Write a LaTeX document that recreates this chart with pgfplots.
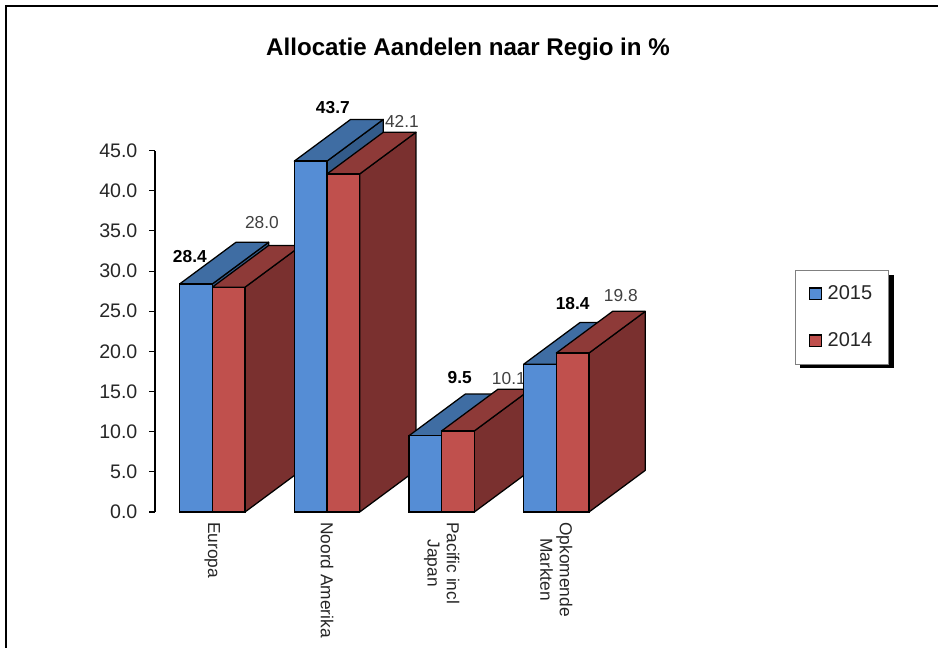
\documentclass[border=0pt]{standalone}
\usepackage{pgfplots}
\pgfplotsset{compat=1.18}
\usepackage{fontspec}
\setmainfont{Liberation Sans}

\definecolor{blueFront}{HTML}{558DD5}
\definecolor{blueTop}{HTML}{3F6DA3}
\definecolor{blueSide}{HTML}{335B8A}
\definecolor{redFront}{HTML}{C0504D}
\definecolor{redTop}{HTML}{8E3A38}
\definecolor{redSide}{HTML}{7A302F}
\definecolor{labelGray}{HTML}{404040}
\definecolor{axisText}{HTML}{262626}

% Depth of the extruded bars, in axis units
\def\depthx{0.491}
\def\depthy{5.19}
\def\barw{0.285}

% Top and side face of one bar: left edge, value, top colour, side colour
\newcommand{\extrude}[4]{%
  \pgfmathsetmacro\xl{#1}%
  \pgfmathsetmacro\xr{#1+\barw}%
  \pgfmathsetmacro\xlb{#1+\depthx}%
  \pgfmathsetmacro\xrb{#1+\barw+\depthx}%
  \pgfmathsetmacro\yb{#2+\depthy}%
  \edef\facecmds{%
    \noexpand\addplot[forget plot,draw=black,line width=0.95pt,line join=round,fill=#4]
      coordinates {(\xr,0) (\xr,#2) (\xrb,\yb) (\xrb,\depthy)} -- cycle;
    \noexpand\addplot[forget plot,draw=black,line width=0.95pt,line join=round,fill=#3]
      coordinates {(\xl,#2) (\xr,#2) (\xrb,\yb) (\xlb,\yb)} -- cycle;
  }%
  \facecmds
}

\tikzset{
  valbold/.style={font=\fontsize{13}{15}\selectfont\bfseries,text=black,inner sep=0pt},
  valplain/.style={font=\fontsize{13}{15}\selectfont,text=labelGray,inner sep=0pt},
}
\pgfplotsset{
  bluebar/.style={forget plot,ybar,bar width=0.285,bar shift=-0.1425,draw=black,line width=0.95pt,fill=blueFront},
  redbar/.style={forget plot,ybar,bar width=0.285,bar shift=0.1425,draw=black,line width=0.95pt,fill=redFront},
}

\begin{document}
\begin{tikzpicture}
\path[use as bounding box] (0,0) rectangle (703.5pt,486pt);
\draw[line width=1.6pt,line cap=rect] (4.5pt,0) -- (4.5pt,481.5pt) -- (703.5pt,481.5pt);
\node[font=\fontsize{18.1}{21}\selectfont\bfseries] at (351pt,449pt) {Allocatie Aandelen naar Regio in \%};
% Drop shadow behind the legend box
\fill[black] (600pt,210pt) rectangle (670.5pt,280pt);
\begin{axis}[
  at={(116.25pt,102pt)}, anchor=south west,
  scale only axis, width=344pt, height=271pt,
  xmin=-0.5, xmax=3.5, ymin=0, ymax=45,
  clip=false,
  axis x line*=bottom, axis y line*=left,
  x axis line style={draw=none,-},
  y axis line style={draw=black,line width=0.8pt,-},
  xtick={0,1,2,3},
  xticklabels={Europa,Noord Amerika,{Pacific incl\\Japan},{Opkomende\\Markten}},
  major x tick style={draw=none},
  ytick={0,5,...,45},
  major y tick style={draw=black,line width=0.8pt},
  tick align=outside, major tick length=4.5pt,
  x tick label style={rotate=-90,anchor=west,align=center,inner sep=0pt,
    font=\fontsize{13}{14.5}\selectfont,text=axisText,xshift=3pt},
  y tick label style={font=\fontsize{14.7}{16}\selectfont,text=axisText,inner sep=0pt,xshift=-8.5pt},
  /pgf/number format/assume math mode=true,
  yticklabel style={/pgf/number format/fixed,/pgf/number format/fixed zerofill,/pgf/number format/precision=1},
  legend cell align=left,
  legend image code/.code={\draw[#1,line width=0.95pt] (0pt,-4.4pt) rectangle (8.8pt,4.4pt); \path (11pt,0pt);},
  legend style={
    at={(1.3953,0.6698)},anchor=north west,
    draw=gray,line width=0.8pt,fill=white,
    font=\fontsize{15}{16}\selectfont,text=axisText,
    inner xsep=10.25pt,inner ysep=9.5pt,row sep=19.3pt,
  },
]
% Europa
\extrude{-0.285}{28.4}{blueTop}{blueSide}
\extrude{0}{28.0}{redTop}{redSide}
\addplot[bluebar] coordinates {(0,28.4)};
\addplot[redbar] coordinates {(0,28.0)};
\node[valbold] at (axis cs:-0.196,31.76) {28.4};
\node[valplain] at (axis cs:0.432,36.1) {28.0};
% Noord Amerika
\extrude{0.715}{43.7}{blueTop}{blueSide}
\extrude{1}{42.1}{redTop}{redSide}
\addplot[bluebar] coordinates {(1,43.7)};
\addplot[redbar] coordinates {(1,42.1)};
\node[valbold] at (axis cs:1.051,50.4) {43.7};
\node[valplain] at (axis cs:1.653,48.6) {42.1};
% Pacific incl Japan
\extrude{1.715}{9.5}{blueTop}{blueSide}
\extrude{2}{10.1}{redTop}{redSide}
\addplot[bluebar] coordinates {(2,9.5)};
\addplot[redbar] coordinates {(2,10.1)};
\node[valbold] at (axis cs:2.158,16.8) {9.5};
\node[valplain] at (axis cs:2.586,16.6) {10.1};
% Opkomende Markten
\extrude{2.715}{18.4}{blueTop}{blueSide}
\extrude{3}{19.8}{redTop}{redSide}
\addplot[bluebar] coordinates {(3,18.4)};
\addplot[redbar] coordinates {(3,19.8)};
\node[valbold] at (axis cs:3.143,25.9) {18.4};
\node[valplain] at (axis cs:3.562,27.0) {19.8};
\addlegendimage{fill=blueFront,draw=black}
\addlegendentry{2015}
\addlegendimage{fill=redFront,draw=black}
\addlegendentry{2014}
\end{axis}
\end{tikzpicture}
\end{document}
